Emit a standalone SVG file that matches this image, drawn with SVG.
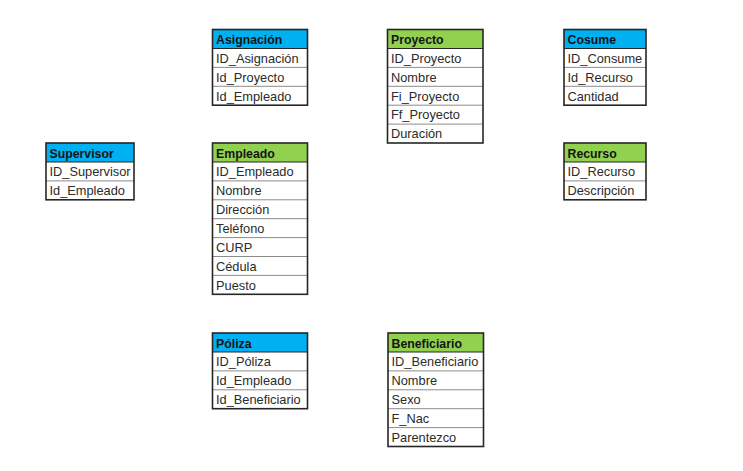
<svg xmlns="http://www.w3.org/2000/svg" width="743" height="471" viewBox="0 0 743 471">
<style>
.bg{fill:#ffffff}
.hb{fill:#00B0F0}
.hg{fill:#92D050}
.frame{fill:none;stroke:#262626;stroke-width:1.6}
.sep{stroke:#8c8c8c;stroke-width:1}
.hsep{stroke:#262626;stroke-width:1.2}
text{font-family:"Liberation Sans",Arial,sans-serif;font-size:12.8px;fill:#2b2b2b}
.ht{font-weight:bold;font-size:12.3px;fill:#141414}
</style>
<rect width="743" height="471" fill="#ffffff"/>
<g id="connectors"/>

<g id="asignacion">
<rect class="bg" x="212.5" y="29.5" width="95" height="75.7"/>
<rect class="hb" x="212.5" y="29.5" width="95" height="19"/>
<line class="hsep" x1="212.5" y1="48.5" x2="307.5" y2="48.5"/>
<line class="sep" x1="212.5" y1="67.4" x2="307.5" y2="67.4"/>
<line class="sep" x1="212.5" y1="86.3" x2="307.5" y2="86.3"/>
<rect class="frame" x="212.5" y="29.5" width="95" height="75.7"/>
<text class="ht" x="216" y="44">Asignación</text>
<text x="216" y="62.7">ID_Asignación</text>
<text x="216" y="81.6">Id_Proyecto</text>
<text x="216" y="100.5">Id_Empleado</text>
</g>

<g id="proyecto">
<rect class="bg" x="387.5" y="29.5" width="95.5" height="113.5"/>
<rect class="hg" x="387.5" y="29.5" width="95.5" height="19"/>
<line class="hsep" x1="387.5" y1="48.5" x2="483" y2="48.5"/>
<line class="sep" x1="387.5" y1="67.4" x2="483" y2="67.4"/>
<line class="sep" x1="387.5" y1="86.3" x2="483" y2="86.3"/>
<line class="sep" x1="387.5" y1="105.2" x2="483" y2="105.2"/>
<line class="sep" x1="387.5" y1="124.1" x2="483" y2="124.1"/>
<rect class="frame" x="387.5" y="29.5" width="95.5" height="113.5"/>
<text class="ht" x="391" y="44">Proyecto</text>
<text x="391" y="62.7">ID_Proyecto</text>
<text x="391" y="81.6">Nombre</text>
<text x="391" y="100.5">Fi_Proyecto</text>
<text x="391" y="119.4">Ff_Proyecto</text>
<text x="391" y="138.3">Duración</text>
</g>

<g id="cosume">
<rect class="bg" x="564" y="29.5" width="82" height="75.7"/>
<rect class="hb" x="564" y="29.5" width="82" height="19"/>
<line class="hsep" x1="564" y1="48.5" x2="646" y2="48.5"/>
<line class="sep" x1="564" y1="67.4" x2="646" y2="67.4"/>
<line class="sep" x1="564" y1="86.3" x2="646" y2="86.3"/>
<rect class="frame" x="564" y="29.5" width="82" height="75.7"/>
<text class="ht" x="567.5" y="44">Cosume</text>
<text x="567.5" y="62.7">ID_Consume</text>
<text x="567.5" y="81.6">Id_Recurso</text>
<text x="567.5" y="100.5">Cantidad</text>
</g>

<g id="supervisor">
<rect class="bg" x="46" y="143" width="88" height="56.8"/>
<rect class="hb" x="46" y="143" width="88" height="19"/>
<line class="hsep" x1="46" y1="162" x2="134" y2="162"/>
<line class="sep" x1="46" y1="180.9" x2="134" y2="180.9"/>
<rect class="frame" x="46" y="143" width="88" height="56.8"/>
<text class="ht" x="49.5" y="157.5">Supervisor</text>
<text x="49.5" y="176.2">ID_Supervisor</text>
<text x="49.5" y="195.1">Id_Empleado</text>
</g>

<g id="empleado">
<rect class="bg" x="212.5" y="143" width="95" height="151.3"/>
<rect class="hg" x="212.5" y="143" width="95" height="19"/>
<line class="hsep" x1="212.5" y1="162" x2="307.5" y2="162"/>
<line class="sep" x1="212.5" y1="180.9" x2="307.5" y2="180.9"/>
<line class="sep" x1="212.5" y1="199.8" x2="307.5" y2="199.8"/>
<line class="sep" x1="212.5" y1="218.7" x2="307.5" y2="218.7"/>
<line class="sep" x1="212.5" y1="237.6" x2="307.5" y2="237.6"/>
<line class="sep" x1="212.5" y1="256.5" x2="307.5" y2="256.5"/>
<line class="sep" x1="212.5" y1="275.4" x2="307.5" y2="275.4"/>
<rect class="frame" x="212.5" y="143" width="95" height="151.3"/>
<text class="ht" x="216" y="157.5">Empleado</text>
<text x="216" y="176.2">ID_Empleado</text>
<text x="216" y="195.1">Nombre</text>
<text x="216" y="214">Dirección</text>
<text x="216" y="232.9">Teléfono</text>
<text x="216" y="251.8">CURP</text>
<text x="216" y="270.7">Cédula</text>
<text x="216" y="289.6">Puesto</text>
</g>

<g id="recurso">
<rect class="bg" x="564" y="143" width="82" height="56.8"/>
<rect class="hg" x="564" y="143" width="82" height="19"/>
<line class="hsep" x1="564" y1="162" x2="646" y2="162"/>
<line class="sep" x1="564" y1="180.9" x2="646" y2="180.9"/>
<rect class="frame" x="564" y="143" width="82" height="56.8"/>
<text class="ht" x="567.5" y="157.5">Recurso</text>
<text x="567.5" y="176.2">ID_Recurso</text>
<text x="567.5" y="195.1">Descripción</text>
</g>

<g id="poliza">
<rect class="bg" x="212.5" y="333" width="95" height="75.7"/>
<rect class="hb" x="212.5" y="333" width="95" height="19"/>
<line class="hsep" x1="212.5" y1="352" x2="307.5" y2="352"/>
<line class="sep" x1="212.5" y1="370.9" x2="307.5" y2="370.9"/>
<line class="sep" x1="212.5" y1="389.8" x2="307.5" y2="389.8"/>
<rect class="frame" x="212.5" y="333" width="95" height="75.7"/>
<text class="ht" x="216" y="347.5">Póliza</text>
<text x="216" y="366.2">ID_Póliza</text>
<text x="216" y="385.1">Id_Empleado</text>
<text x="216" y="404">Id_Beneficiario</text>
</g>

<g id="beneficiario">
<rect class="bg" x="388" y="333" width="95.5" height="113.5"/>
<rect class="hg" x="388" y="333" width="95.5" height="19"/>
<line class="hsep" x1="388" y1="352" x2="483.5" y2="352"/>
<line class="sep" x1="388" y1="370.9" x2="483.5" y2="370.9"/>
<line class="sep" x1="388" y1="389.8" x2="483.5" y2="389.8"/>
<line class="sep" x1="388" y1="408.7" x2="483.5" y2="408.7"/>
<line class="sep" x1="388" y1="427.6" x2="483.5" y2="427.6"/>
<rect class="frame" x="388" y="333" width="95.5" height="113.5"/>
<text class="ht" x="391.5" y="347.5">Beneficiario</text>
<text x="391.5" y="366.2">ID_Beneficiario</text>
<text x="391.5" y="385.1">Nombre</text>
<text x="391.5" y="404">Sexo</text>
<text x="391.5" y="422.9">F_Nac</text>
<text x="391.5" y="441.8">Parentezco</text>
</g>
</svg>
